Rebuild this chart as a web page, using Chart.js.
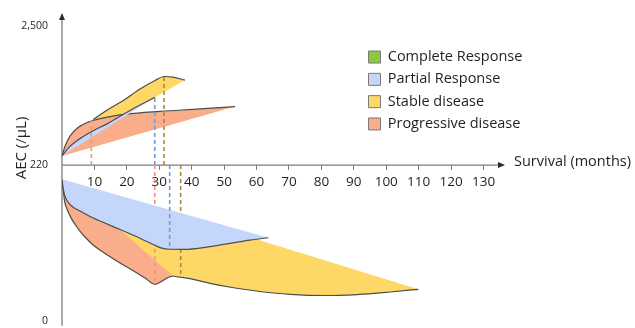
<!DOCTYPE html>
<html>
<head>
<meta charset="utf-8">
<script src="https://cdn.jsdelivr.net/npm/chart.js@4/dist/chart.umd.min.js"></script>
<style>
  html, body { margin: 0; padding: 0; background: #fff; }
  canvas { display: block; }
</style>
</head>
<body>
<canvas id="chart" width="635" height="328"></canvas>
<script>
// ---- response categories ----
const categories = ['Complete Response', 'Partial Response', 'Stable disease', 'Progressive disease'];
const categoryColors = ['#8dc63f', '#c4d6fa', '#fed866', '#f9ad8a'];
const markerColors = { partial: '#6e9bd6', stable: '#a88a3c', progressive: '#f29372' };

// ---- axes ----
const xTickValues = [10, 20, 30, 40, 50, 60, 70, 80, 90, 100, 110, 120, 130];
const yTickValues = [0, 220, 2500];
const yTickLabels = ['0', '220', '2,500'];
const baselineAEC = 220;

// ---- AEC rising above 220/µL (survival in months, AEC in /µL) ----
const partialRiseMonths = [0, 1.85, 4.94, 9.04, 14.19, 19.34, 24.46, 28.6];
const partialRiseAEC = [370, 494, 630, 766, 904, 1065, 1216, 1330];
const partialRiseBaseMonths = [0, 28.6];
const partialRiseBaseAEC = [370, 1330];

const stableRiseMonths = [9.56, 14.19, 19.13, 24.06, 28.69, 31.46, 34.24, 37.94];
const stableRiseAEC = [966, 1130, 1286, 1467, 1606, 1672, 1663, 1614];
const stableRiseBaseMonths = [9.56, 19.74, 37.94];
const stableRiseBaseAEC = [966, 1056, 1614];

const progressiveRiseMonths = [0, 0.93, 2.47, 4.94, 8.02, 10.49, 14.81, 19.74, 30.23, 42.57, 53.37];
const progressiveRiseAEC = [370, 530, 695, 835, 925, 965, 1015, 1055, 1100, 1140, 1180];
const progressiveRiseBaseMonths = [0, 53.37];
const progressiveRiseBaseAEC = [370, 1180];

// ---- AEC falling below 220/µL ----
const partialFallMonths = [0, 0.31, 0.83, 1.54, 2.87, 5.55, 9.25, 13.57, 17.89, 22.52, 27.15, 30.23, 33.32, 37.94, 44.11, 51.83, 58.0, 63.64];
const partialFallAEC = [200, 189, 177, 170, 162.5, 155, 146, 137.4, 129, 119.7, 109.8, 103.4, 101, 100.9, 103.7, 109.4, 114, 117.3];
const partialFallBaseMonths = [0, 63.64];
const partialFallBaseAEC = [200, 117.3];

const progressiveFallMonths = [0, 0.31, 0.83, 1.54, 2.87, 4.94, 7.09, 10.18, 13.26, 17.28, 21.6, 25.6, 28.69, 30.23, 32.7, 34.24];
const progressiveFallAEC = [200, 187.5, 168, 158, 144.7, 130.3, 118.3, 104.8, 95, 83.4, 71.6, 60.3, 51.4, 54.3, 61, 63.2];
const progressiveFallBaseMonths = [0, 34.24];
const progressiveFallBaseAEC = [200, 63.2];

const stableFallMonths = [0, 11.72, 24.06, 30.23, 34.24, 39.49, 45.65, 53.37, 61.08, 70.33, 81.13, 91.0, 101.18, 109.91];
const stableFallAEC = [200, 125.3, 82.9, 68.1, 63.2, 59.6, 52.8, 46.2, 41.3, 37.3, 35.6, 37.0, 40.6, 44.4];
const stableFallBaseMonths = [0, 109.91];
const stableFallBaseAEC = [200, 44.4];
const stableFallOutlineFrom = 34.24; // edge before this lies under the other bands

// ---- median survival markers ----
const riseMarkerGroups = ['progressive', 'partial', 'stable'];
const riseMarkerMonths = [9.05, 28.6, 31.46];
const riseMarkerAEC = [940, 1330, 1670];
const fallMarkerGroups = ['progressive', 'partial', 'stable'];
const fallMarkerMonths = [28.6, 33.2, 36.6];
const fallMarkerAEC = [51.5, 101, 61.5];

// ---- y scale: 0–220 and 220–2,500 each get their own linear span ----
const BREAK_FRACTION = 0.528;
class SplitLinearScale extends Chart.LinearScale {
  static id = 'splitLinear';
  toDecimal(v) {
    const lo = this.min, hi = this.max;
    return v <= baselineAEC
      ? BREAK_FRACTION * (v - lo) / (baselineAEC - lo)
      : BREAK_FRACTION + (1 - BREAK_FRACTION) * (v - baselineAEC) / (hi - baselineAEC);
  }
  getPixelForValue(v) {
    return v === null ? NaN : this.getPixelForDecimal(this.toDecimal(v));
  }
  getValueForPixel(p) {
    const d = this.getDecimalForPixel(p);
    return d <= BREAK_FRACTION
      ? this.min + d / BREAK_FRACTION * (baselineAEC - this.min)
      : baselineAEC + (d - BREAK_FRACTION) / (1 - BREAK_FRACTION) * (this.max - baselineAEC);
  }
}
Chart.register(SplitLinearScale);

const FONT = "'Open Sans', sans-serif";
const TEXT = '#231f20';
const OUTLINE = '#4d4d4d';
const CLEAR = 'rgba(0,0,0,0)';
Chart.defaults.font.family = FONT;
Chart.defaults.color = TEXT;

const toPoints = (xs, ys) => xs.map((x, i) => ({ x, y: ys[i] }));
const colorOf = name => categoryColors[categories.indexOf(name)];

function bandEdge(label, xs, ys, color, extra) {
  return Object.assign({
    label, data: toPoints(xs, ys),
    borderColor: OUTLINE, borderWidth: 1.2,
    backgroundColor: color, fill: '+1',
    cubicInterpolationMode: 'monotone', pointRadius: 0
  }, extra || {});
}
function bandBase(label, xs, ys) {
  return { label, data: toPoints(xs, ys), borderColor: CLEAR, borderWidth: 1, fill: false, pointRadius: 0 };
}
function marker(label, month, aec, group) {
  return {
    label, data: [{ x: month, y: baselineAEC }, { x: month, y: aec }],
    borderColor: markerColors[group], borderWidth: 1.6, borderDash: [4, 3],
    fill: false, pointRadius: 0
  };
}

const partialColor = colorOf('Partial Response');
const stableColor = colorOf('Stable disease');
const progressiveColor = colorOf('Progressive disease');

// first dataset is painted last (on top)
const datasets = [
  ...riseMarkerGroups.map((g, i) => marker('rise ' + g, riseMarkerMonths[i], riseMarkerAEC[i], g)),
  marker('fall partial', fallMarkerMonths[1], fallMarkerAEC[1], fallMarkerGroups[1]),
  bandEdge('Partial rise', partialRiseMonths, partialRiseAEC, partialColor),
  bandBase('Partial rise base', partialRiseBaseMonths, partialRiseBaseAEC),
  bandEdge('Partial fall', partialFallMonths, partialFallAEC, partialColor),
  bandBase('Partial fall base', partialFallBaseMonths, partialFallBaseAEC),
  marker('fall progressive', fallMarkerMonths[0], fallMarkerAEC[0], fallMarkerGroups[0]),
  marker('fall stable', fallMarkerMonths[2], fallMarkerAEC[2], fallMarkerGroups[2]),
  bandEdge('Progressive rise', progressiveRiseMonths, progressiveRiseAEC, progressiveColor),
  bandBase('Progressive rise base', progressiveRiseBaseMonths, progressiveRiseBaseAEC),
  bandEdge('Progressive fall', progressiveFallMonths, progressiveFallAEC, progressiveColor),
  bandBase('Progressive fall base', progressiveFallBaseMonths, progressiveFallBaseAEC),
  bandEdge('Stable rise', stableRiseMonths, stableRiseAEC, stableColor),
  bandBase('Stable rise base', stableRiseBaseMonths, stableRiseBaseAEC),
  bandEdge('Stable fall', stableFallMonths, stableFallAEC, stableColor, {
    segment: { borderColor: c => (c.p1.parsed.x <= stableFallOutlineFrom ? CLEAR : OUTLINE) }
  }),
  bandBase('Stable fall base', stableFallBaseMonths, stableFallBaseAEC)
];

// axis lines with arrowheads and the two axis titles
const axisDecor = {
  id: 'axisDecor',
  beforeDatasetsDraw(chart) {
    const { ctx, scales: { x, y } } = chart;
    const originX = x.getPixelForValue(0);
    const axisY = y.getPixelForValue(baselineAEC);
    const yBottom = y.getPixelForValue(0) + 5;
    const yTip = y.top - 13;
    const xTip = x.right + 2;
    ctx.save();
    ctx.strokeStyle = '#7d7d7d';
    ctx.lineWidth = 1.3;
    ctx.beginPath();
    ctx.moveTo(originX, yBottom);
    ctx.lineTo(originX, yTip + 5);
    ctx.moveTo(originX, axisY);
    ctx.lineTo(xTip - 5, axisY);
    ctx.stroke();
    ctx.fillStyle = '#2b2b2b';
    ctx.beginPath();
    ctx.moveTo(originX, yTip);
    ctx.lineTo(originX - 3, yTip + 7);
    ctx.lineTo(originX + 3, yTip + 7);
    ctx.closePath();
    ctx.fill();
    ctx.beginPath();
    ctx.moveTo(xTip, axisY);
    ctx.lineTo(xTip - 7, axisY - 3);
    ctx.lineTo(xTip - 7, axisY + 3);
    ctx.closePath();
    ctx.fill();

    ctx.fillStyle = TEXT;
    ctx.font = '14.5px ' + FONT;
    ctx.textAlign = 'left';
    ctx.textBaseline = 'middle';
    ctx.fillText('Survival (months)', xTip + 9, axisY - 3);

    ctx.translate(22, 148);
    ctx.rotate(-Math.PI / 2);
    ctx.textAlign = 'center';
    ctx.font = '15px ' + FONT;
    ctx.fillText('AEC (/µL)', 0, 0);
    ctx.restore();
  }
};

// the legend sits in the upper right part of the plot
const placeLegend = {
  id: 'placeLegend',
  afterLayout(chart) {
    const lg = chart.legend;
    if (!lg) return;
    const w = lg.width, h = lg.height;
    lg.left = 360.7;
    lg.top = 42;
    lg.right = lg.left + w;
    lg.bottom = lg.top + h;
  }
};

new Chart(document.getElementById('chart'), {
  type: 'line',
  data: { datasets },
  plugins: [axisDecor, placeLegend],
  options: {
    responsive: false,
    devicePixelRatio: 1,
    animation: false,
    events: [],
    layout: { padding: { left: 0, top: 26, right: 132, bottom: 7.3 } },
    scales: {
      x: {
        type: 'linear',
        min: 0,
        max: 136,
        position: { y: baselineAEC },
        afterBuildTicks: s => { s.ticks = xTickValues.map(value => ({ value })); },
        grid: { display: true, drawOnChartArea: false, drawTicks: true, tickLength: 5, color: '#7d7d7d', lineWidth: 1 },
        border: { display: false },
        ticks: { font: { size: 13.5 }, padding: 4, color: TEXT, maxRotation: 0 }
      },
      y: {
        type: 'splitLinear',
        min: 0,
        max: 2500,
        afterBuildTicks: s => { s.ticks = yTickValues.map(value => ({ value })); },
        afterFit: s => { s.width = 62; s.paddingTop = 0; s.paddingBottom = 0; },
        grid: { display: false },
        border: { display: false },
        ticks: {
          font: { size: 10.5 }, padding: 6, color: TEXT,
          callback: (value, index) => yTickLabels[index]
        }
      }
    },
    plugins: {
      filler: { drawTime: 'beforeDatasetDraw', propagate: false },
      tooltip: { enabled: false },
      legend: {
        position: 'chartArea',
        align: 'start',
        labels: {
          boxWidth: 12,
          boxHeight: 12,
          padding: 7.8,
          color: TEXT,
          font: { size: 14.5 },
          generateLabels: () => categories.map((text, i) => ({
            text,
            fillStyle: categoryColors[i],
            strokeStyle: '#7a7a7a',
            lineWidth: 1,
            hidden: false,
            fontColor: TEXT,
            datasetIndex: i
          }))
        }
      }
    }
  }
});
</script>
</body>
</html>
